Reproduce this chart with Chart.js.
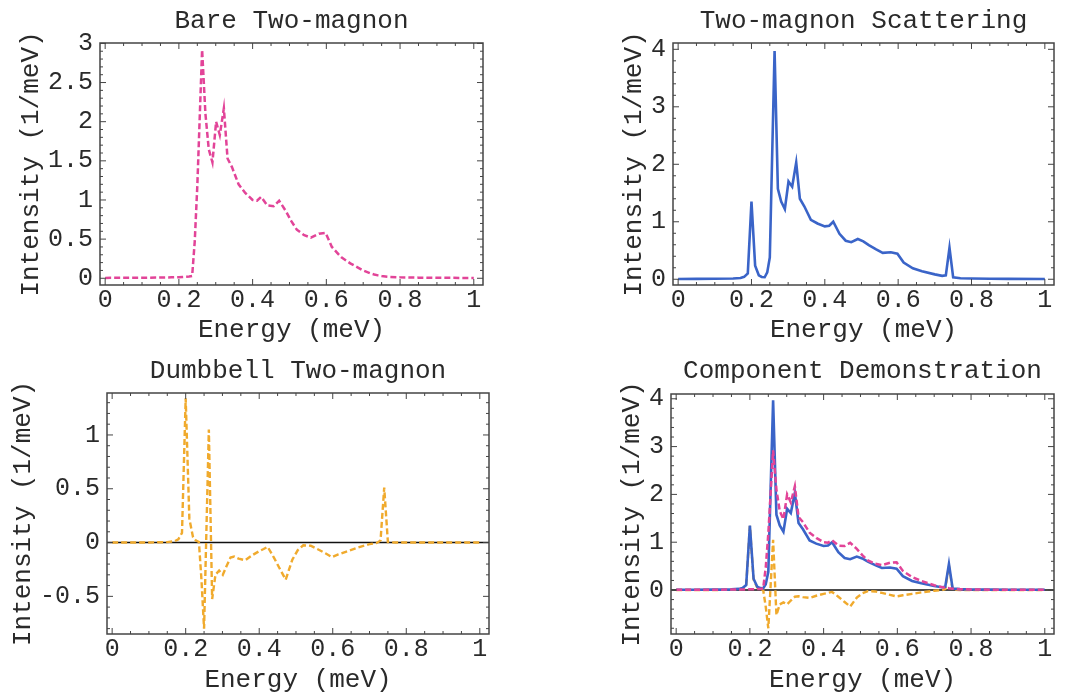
<!DOCTYPE html>
<html lang="en">
  <head>
    <meta charset="UTF-8" />
    <title>Two-magnon spectra</title>
    <script src="https://cdn.jsdelivr.net/npm/chart.js"></script>
    <style>
      body { margin: 0; background: #fff; }
      #wrap { position: relative; width: 1068px; height: 694px; }
      canvas { position: absolute; }
    </style>
  </head>
  <body>
    <div id="wrap">
      <canvas id="bare" width="534" height="347" style="left:0;top:0"></canvas>
      <canvas id="total" width="534" height="347" style="left:534px;top:0"></canvas>
      <canvas id="dumbbell" width="534" height="347" style="left:0;top:347px"></canvas>
      <canvas id="component" width="534" height="347" style="left:534px;top:347px"></canvas>
    </div>

    <script>
      // energy grid (meV) shared by all curves
      const energy = [0, 0.05, 0.1, 0.15, 0.17, 0.18, 0.19, 0.2, 0.21, 0.22, 0.228, 0.236,
        0.243, 0.25, 0.263, 0.272, 0.281, 0.291, 0.301, 0.311, 0.322, 0.332, 0.344, 0.362,
        0.38, 0.4, 0.412, 0.423, 0.44, 0.457, 0.472, 0.49, 0.505, 0.52, 0.54, 0.558,
        0.58, 0.598, 0.615, 0.64, 0.665, 0.7, 0.72, 0.73, 0.74, 0.75, 0.77, 0.8, 0.85, 0.9, 1.0];

      // bare two-magnon intensity (1/meV)
      const bareTwoMagnon = [0.005, 0.006, 0.007, 0.009, 0.011, 0.012, 0.013, 0.014, 0.016, 0.019, 0.022, 0.03,
        0.47, 1.18, 2.92, 2.1, 1.65, 1.48, 2.0, 1.83, 2.17, 1.53, 1.42, 1.2,
        1.09, 1.0, 0.99, 1.04, 0.93, 0.92, 0.99, 0.86, 0.73, 0.62, 0.55, 0.52,
        0.57, 0.58, 0.4, 0.27, 0.19, 0.1, 0.062, 0.048, 0.037, 0.028, 0.018, 0.012, 0.008, 0.006, 0.004];

      // dumbbell two-magnon contribution
      const dumbbellTwoMagnon = [0, 0, 0.001, 0.004, 0.012, 0.03, 0.09, 1.34, 0.22, 0.05, 0.018, 0.005,
        -0.35, -0.8, 1.05, -0.525, -0.3, -0.26, -0.3, -0.22, -0.14, -0.13, -0.15, -0.165,
        -0.12, -0.08, -0.06, -0.04, -0.14, -0.25, -0.345, -0.16, -0.07, -0.025, -0.03, -0.06,
        -0.1, -0.135, -0.11, -0.08, -0.05, -0.015, -0.003, 0.02, 0.51, 0.005, 0, 0, 0, 0, 0];

      // full two-magnon scattering
      const twoMagnonScattering = [0.005, 0.006, 0.008, 0.013, 0.023, 0.042, 0.103, 1.35, 0.236, 0.069, 0.04, 0.035,
        0.12, 0.38, 3.97, 1.575, 1.35, 1.22, 1.7, 1.61, 2.03, 1.4, 1.27, 1.035,
        0.97, 0.92, 0.93, 1.0, 0.79, 0.67, 0.645, 0.7, 0.66, 0.595, 0.52, 0.46,
        0.47, 0.445, 0.29, 0.19, 0.14, 0.085, 0.059, 0.068, 0.547, 0.033, 0.018, 0.012, 0.008, 0.006, 0.004];

      const PINK = "rgb(226, 68, 152)";
      const BLUE = "rgb(58, 100, 200)";
      const ORANGE = "rgb(240, 170, 45)";
      const FONT = "'Liberation Mono', 'Courier New', monospace";
      const INK = "#2a2a2a";

      const pts = arr => energy.map((e, i) => ({ x: e, y: arr[i] }));

      const bareSet = { data: pts(bareTwoMagnon), borderColor: PINK, borderWidth: 2.5, borderDash: [6, 3] };
      const dumbSet = { data: pts(dumbbellTwoMagnon), borderColor: ORANGE, borderWidth: 2.4, borderDash: [6, 3] };
      const totalSet = { data: pts(twoMagnonScattering), borderColor: BLUE, borderWidth: 2.6 };

      // mathematica-style frame: box with inward major/minor ticks on every side
      const framePlugin = {
        id: "frame",
        beforeDatasetsDraw(chart, args, opts) {
          if (!opts.zeroLine) return;
          const { ctx, chartArea: a, scales: { y } } = chart;
          const py = y.getPixelForValue(0);
          ctx.save();
          ctx.strokeStyle = "#111";
          ctx.lineWidth = 1.5;
          ctx.beginPath();
          ctx.moveTo(a.left, py);
          ctx.lineTo(a.right, py);
          ctx.stroke();
          ctx.restore();
        },
        afterDatasetsDraw(chart, args, opts) {
          const { ctx, chartArea: a, scales: { x, y } } = chart;
          ctx.save();
          ctx.strokeStyle = "#444";
          ctx.lineWidth = 1.5;
          ctx.strokeRect(a.left, a.top, a.right - a.left, a.bottom - a.top);
          ctx.lineWidth = 1;

          const marks = (scale, major, minor, draw) => {
            const k0 = Math.ceil(scale.min / minor - 1e-9);
            const k1 = Math.floor(scale.max / minor + 1e-9);
            for (let k = k0; k <= k1; k++) {
              const v = k * minor;
              const r = v / major;
              const len = Math.abs(r - Math.round(r)) < 1e-6 ? 6 : 3;
              draw(scale.getPixelForValue(v), len);
            }
          };
          ctx.beginPath();
          marks(x, opts.xMajor, opts.xMinor, (p, len) => {
            ctx.moveTo(p, a.bottom); ctx.lineTo(p, a.bottom - len);
            ctx.moveTo(p, a.top); ctx.lineTo(p, a.top + len);
          });
          marks(y, opts.yMajor, opts.yMinor, (p, len) => {
            ctx.moveTo(a.left, p); ctx.lineTo(a.left + len, p);
            ctx.moveTo(a.right, p); ctx.lineTo(a.right - len, p);
          });
          ctx.stroke();
          ctx.restore();
        }
      };

      function makePanel(id, p) {
        return new Chart(document.getElementById(id), {
          type: "line",
          data: { datasets: p.datasets.map(d => ({ ...d, pointRadius: 0, tension: 0, fill: false })) },
          plugins: [framePlugin],
          options: {
            responsive: false,
            animation: false,
            layout: { padding: { left: 0, right: p.padRight, top: 0, bottom: 0 } },
            plugins: {
              legend: { display: false },
              tooltip: { enabled: false },
              title: {
                display: true,
                text: p.title,
                fullSize: false,
                color: INK,
                font: { family: FONT, size: 26, weight: "normal", lineHeight: 1 },
                padding: p.titlePad
              },
              frame: { zeroLine: p.zeroLine, xMajor: 0.2, xMinor: 0.05, yMajor: p.yStep, yMinor: p.yMinor }
            },
            scales: {
              x: {
                type: "linear",
                min: -0.014,
                max: 1.025,
                grid: { display: false, drawTicks: false },
                border: { display: false },
                ticks: {
                  stepSize: 0.2,
                  includeBounds: false,
                  maxRotation: 0,
                  padding: 3,
                  color: INK,
                  font: { family: FONT, size: 25, lineHeight: 1 },
                  callback: v => String(+v.toFixed(2))
                },
                title: {
                  display: true,
                  text: "Energy (meV)",
                  color: INK,
                  font: { family: FONT, size: 26, lineHeight: 1 },
                  padding: { top: 0, bottom: p.xTitlePad }
                },
                afterFit: s => { s.height = 347 - p.bottom; }
              },
              y: {
                type: "linear",
                min: p.yMin,
                max: p.yMax,
                grid: { display: false, drawTicks: false },
                border: { display: false },
                ticks: {
                  stepSize: p.yStep,
                  includeBounds: false,
                  padding: 7,
                  color: INK,
                  font: { family: FONT, size: 25, lineHeight: 1 },
                  callback: v => String(+v.toFixed(2))
                },
                title: {
                  display: true,
                  text: "Intensity (1/meV)",
                  color: INK,
                  font: { family: FONT, size: 26, lineHeight: 1 },
                  padding: { top: p.yTitlePad, bottom: 0 }
                },
                afterFit: s => { s.width = p.left; }
              }
            }
          }
        });
      }

      makePanel("bare", {
        title: "Bare Two-magnon", datasets: [bareSet],
        left: 100, padRight: 51, bottom: 285, titlePad: { top: 8, bottom: 9 },
        xTitlePad: 4, yTitlePad: 18,
        yMin: -0.086, yMax: 3.005, yStep: 0.5, yMinor: 0.1, zeroLine: false
      });

      makePanel("total", {
        title: "Two-magnon Scattering", datasets: [totalSet],
        left: 139, padRight: 14, bottom: 285, titlePad: { top: 8, bottom: 9 },
        xTitlePad: 4, yTitlePad: 87,
        yMin: -0.1, yMax: 4.11, yStep: 1, yMinor: 0.2, zeroLine: false
      });

      makePanel("dumbbell", {
        title: "Dumbbell Two-magnon", datasets: [dumbSet],
        left: 107, padRight: 45, bottom: 287, titlePad: { top: 11, bottom: 9 },
        xTitlePad: 1, yTitlePad: 10,
        yMin: -0.85, yMax: 1.39, yStep: 0.5, yMinor: 0.1, zeroLine: true
      });

      makePanel("component", {
        title: "Component Demonstration",
        datasets: [{ ...bareSet, order: 0 }, { ...totalSet, order: 1 }, { ...dumbSet, order: 2 }],
        left: 137, padRight: 14, bottom: 287, titlePad: { top: 11, bottom: 10 },
        xTitlePad: 1, yTitlePad: 85,
        yMin: -0.92, yMax: 4.1, yStep: 1, yMinor: 0.2, zeroLine: true
      });
    </script>
  </body>
</html>
